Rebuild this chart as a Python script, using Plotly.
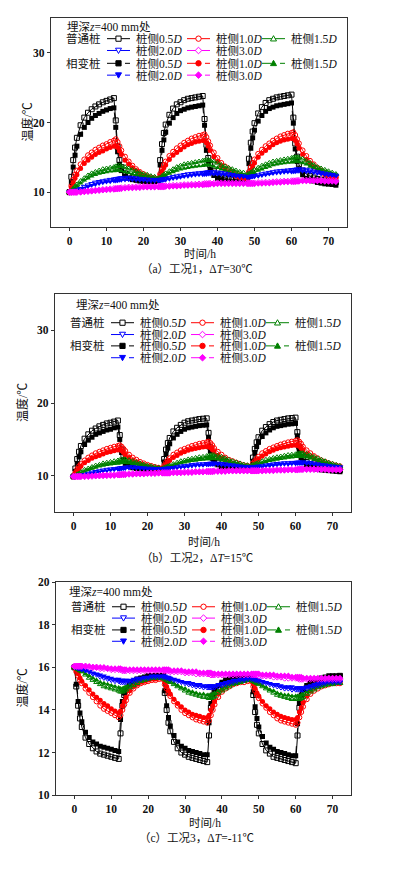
import plotly.graph_objects as go

# ---------------- data ----------------
TIME_H = [
    0, 0.5, 1, 1.5, 2, 3, 4, 5, 6, 7, 8, 9, 10, 11, 12, 12.5, 13, 13.5, 14, 15, 16, 17, 18, 19, 20, 21, 22, 23,
    24, 24.5, 25, 25.5, 26, 27, 28, 29, 30, 31, 32, 33, 34, 35, 36, 36.5, 37, 37.5, 38, 39, 40, 41, 42, 43, 44, 45, 46, 47,
    48, 48.5, 49, 49.5, 50, 51, 52, 53, 54, 55, 56, 57, 58, 59, 60, 60.5, 61, 61.5, 62, 63, 64, 65, 66, 67, 68, 69, 70, 71,
    72,
]

SIDE_LABELS = ["桩侧0.5<i>D</i>", "桩侧1.0<i>D</i>", "桩侧1.5<i>D</i>", "桩侧2.0<i>D</i>", "桩侧3.0<i>D</i>"]
GROUP_LABELS = ["普通桩", "相变桩"]
DEPTH_LABEL = "埋深<i>z</i>=400 mm处"
X_TICKS = [0, 10, 20, 30, 40, 50, 60, 70]
CAPTIONS = ["（a）工况1，Δ<i>T</i>=30℃", "（b）工况2，Δ<i>T</i>=15℃", "（c）工况3，Δ<i>T</i>=-11℃"]
X_TITLE = "时间/h"
Y_TITLE = "温度/℃"

# ---- case 1, dT = 30 ----
A_N05 = [10.0, 12.2, 14.6, 16.4, 17.8, 19.6, 20.7, 21.4, 21.9, 22.3, 22.6, 22.9, 23.1, 23.3, 23.5, 20.3, 16.5, 14.6, 13.6, 12.7, 12.3, 12.1, 11.95, 11.85, 11.8, 11.75, 11.7, 11.7,
         11.8, 14.6, 16.9, 18.5, 19.7, 21.1, 22.0, 22.6, 22.9, 23.2, 23.4, 23.5, 23.6, 23.7, 23.8, 20.5, 16.8, 14.9, 13.9, 13.0, 12.5, 12.2, 12.0, 11.9, 11.85, 11.8, 11.75, 11.7,
         12.0, 14.8, 17.1, 18.7, 19.9, 21.3, 22.2, 22.8, 23.2, 23.4, 23.6, 23.7, 23.8, 23.9, 24.0, 20.7, 17.0, 15.1, 14.0, 13.1, 12.6, 12.3, 12.1, 11.9, 11.8, 11.7, 11.6, 11.5,
         11.4]
A_P05 = [10.0, 11.4, 13.6, 15.3, 16.6, 18.3, 19.3, 20.0, 20.6, 21.0, 21.3, 21.6, 21.8, 22.0, 22.1, 19.3, 15.8, 14.0, 13.1, 12.3, 12.0, 11.8, 11.7, 11.6, 11.55, 11.5, 11.5, 11.5,
         11.6, 13.9, 16.0, 17.5, 18.6, 19.9, 20.7, 21.3, 21.7, 21.9, 22.1, 22.2, 22.3, 22.4, 22.5, 19.6, 16.0, 14.2, 13.2, 12.4, 12.0, 11.8, 11.6, 11.5, 11.45, 11.4, 11.4, 11.4,
         11.8, 14.1, 16.3, 17.8, 18.9, 20.2, 21.0, 21.6, 22.0, 22.2, 22.4, 22.5, 22.6, 22.7, 22.8, 19.9, 16.2, 14.4, 13.3, 12.5, 12.0, 11.8, 11.6, 11.4, 11.3, 11.2, 11.15, 11.1,
         11.0]
A_N10 = [10.0, 10.9, 11.8, 12.5, 13.1, 14.0, 14.7, 15.3, 15.7, 16.1, 16.4, 16.7, 16.9, 17.2, 17.4, 17.6, 17.2, 16.6, 16.0, 15.1, 14.4, 13.8, 13.3, 12.9, 12.6, 12.3, 12.1, 12.0,
         11.9, 12.6, 13.3, 13.9, 14.4, 15.2, 15.8, 16.3, 16.7, 17.1, 17.4, 17.7, 17.9, 18.1, 18.2, 18.3, 17.9, 17.3, 16.7, 15.7, 14.9, 14.2, 13.7, 13.3, 12.9, 12.6, 12.4, 12.3,
         12.2, 12.9, 13.6, 14.2, 14.7, 15.5, 16.1, 16.6, 17.0, 17.4, 17.7, 18.0, 18.2, 18.4, 18.5, 18.6, 18.2, 17.6, 17.0, 16.0, 15.2, 14.5, 14.0, 13.5, 13.1, 12.8, 12.5, 12.3,
         12.2]
A_P10 = [10.0, 10.7, 11.4, 12.0, 12.5, 13.4, 14.1, 14.6, 15.0, 15.4, 15.7, 15.9, 16.2, 16.4, 16.6, 16.7, 16.4, 15.9, 15.4, 14.6, 14.0, 13.5, 13.1, 12.7, 12.4, 12.2, 12.0, 11.9,
         11.8, 12.4, 13.0, 13.5, 13.9, 14.7, 15.3, 15.7, 16.1, 16.5, 16.8, 17.0, 17.2, 17.3, 17.4, 17.4, 17.1, 16.6, 16.0, 15.1, 14.4, 13.8, 13.3, 12.9, 12.6, 12.3, 12.1, 12.0,
         11.9, 12.6, 13.2, 13.7, 14.2, 15.0, 15.6, 16.0, 16.4, 16.8, 17.1, 17.3, 17.5, 17.6, 17.7, 17.7, 17.4, 16.9, 16.3, 15.4, 14.7, 14.1, 13.6, 13.2, 12.8, 12.5, 12.3, 12.1,
         12.0]
A_N15 = [10.0, 10.2, 10.5, 10.8, 11.1, 11.6, 12.0, 12.4, 12.7, 12.9, 13.1, 13.3, 13.4, 13.5, 13.6, 13.7, 13.8, 13.8, 13.75, 13.6, 13.4, 13.2, 13.0, 12.8, 12.6, 12.5, 12.3, 12.2,
         12.0, 12.1, 12.3, 12.5, 12.7, 13.0, 13.3, 13.6, 13.8, 14.0, 14.1, 14.2, 14.3, 14.4, 14.5, 14.55, 14.6, 14.6, 14.55, 14.4, 14.2, 13.9, 13.7, 13.5, 13.3, 13.1, 12.9, 12.8,
         12.5, 12.6, 12.8, 13.0, 13.2, 13.5, 13.8, 14.0, 14.2, 14.4, 14.5, 14.6, 14.7, 14.8, 14.9, 14.95, 15.0, 15.0, 14.95, 14.8, 14.5, 14.2, 13.9, 13.6, 13.4, 13.2, 13.0, 12.8,
         12.6]
A_P15 = [10.0, 10.1, 10.4, 10.6, 10.9, 11.3, 11.7, 12.0, 12.3, 12.5, 12.7, 12.8, 12.9, 13.0, 13.05, 13.1, 13.1, 13.1, 13.05, 12.9, 12.8, 12.6, 12.5, 12.3, 12.2, 12.1, 12.0, 11.95,
         11.9, 12.0, 12.1, 12.3, 12.4, 12.7, 12.9, 13.1, 13.3, 13.4, 13.5, 13.6, 13.7, 13.75, 13.8, 13.85, 13.9, 13.9, 13.85, 13.7, 13.5, 13.3, 13.1, 12.9, 12.8, 12.6, 12.5, 12.4,
         12.3, 12.4, 12.5, 12.7, 12.8, 13.1, 13.3, 13.5, 13.7, 13.9, 14.0, 14.1, 14.2, 14.25, 14.3, 14.35, 14.4, 14.4, 14.35, 14.2, 14.0, 13.7, 13.5, 13.3, 13.1, 12.9, 12.8, 12.6,
         12.5]
A_N20 = [10.0, 10.0, 10.1, 10.2, 10.3, 10.5, 10.8, 11.0, 11.2, 11.4, 11.5, 11.6, 11.7, 11.8, 11.85, 11.9, 11.95, 12.0, 12.05, 12.1, 12.1, 12.05, 12.0, 11.95, 11.9, 11.85, 11.8, 11.8,
         11.8, 11.8, 11.85, 11.9, 11.95, 12.05, 12.2, 12.3, 12.4, 12.5, 12.6, 12.65, 12.7, 12.75, 12.8, 12.8, 12.85, 12.9, 12.9, 12.9, 12.85, 12.8, 12.7, 12.6, 12.5, 12.4, 12.35, 12.3,
         12.2, 12.2, 12.25, 12.3, 12.35, 12.45, 12.6, 12.7, 12.8, 12.9, 13.0, 13.05, 13.1, 13.15, 13.2, 13.2, 13.25, 13.3, 13.3, 13.3, 13.25, 13.15, 13.0, 12.9, 12.8, 12.7, 12.6, 12.5,
         12.4]
A_P20 = [10.0, 10.0, 10.05, 10.1, 10.2, 10.4, 10.6, 10.8, 11.0, 11.1, 11.25, 11.35, 11.45, 11.5, 11.6, 11.6, 11.65, 11.7, 11.7, 11.75, 11.8, 11.8, 11.75, 11.7, 11.7, 11.65, 11.6, 11.6,
         11.6, 11.6, 11.65, 11.7, 11.75, 11.85, 11.95, 12.05, 12.15, 12.25, 12.3, 12.4, 12.45, 12.5, 12.5, 12.55, 12.55, 12.6, 12.6, 12.6, 12.6, 12.55, 12.5, 12.4, 12.35, 12.3, 12.2, 12.2,
         12.1, 12.1, 12.15, 12.2, 12.2, 12.3, 12.4, 12.5, 12.6, 12.7, 12.75, 12.8, 12.85, 12.9, 12.9, 12.95, 12.95, 13.0, 13.0, 13.0, 12.95, 12.9, 12.8, 12.7, 12.6, 12.5, 12.4, 12.35,
         12.3]
A_N30 = [10.0, 10.0, 10.0, 10.0, 10.0, 10.05, 10.1, 10.15, 10.2, 10.25, 10.3, 10.35, 10.4, 10.45, 10.5, 10.5, 10.55, 10.55, 10.6, 10.65, 10.7, 10.7, 10.75, 10.75, 10.8, 10.8, 10.8, 10.8,
         10.85, 10.85, 10.85, 10.85, 10.9, 10.9, 10.95, 10.95, 11.0, 11.05, 11.05, 11.1, 11.1, 11.15, 11.15, 11.2, 11.2, 11.2, 11.25, 11.25, 11.3, 11.3, 11.3, 11.3, 11.3, 11.3, 11.3, 11.3,
         11.3, 11.3, 11.3, 11.3, 11.3, 11.35, 11.35, 11.4, 11.4, 11.45, 11.5, 11.5, 11.55, 11.55, 11.6, 11.6, 11.6, 11.65, 11.65, 11.7, 11.7, 11.7, 11.7, 11.7, 11.7, 11.65, 11.65, 11.65,
         11.6]
A_P30 = [10.0, 10.0, 10.0, 10.0, 10.0, 10.0, 10.05, 10.1, 10.15, 10.2, 10.25, 10.3, 10.35, 10.4, 10.4, 10.45, 10.45, 10.5, 10.5, 10.55, 10.6, 10.6, 10.65, 10.65, 10.7, 10.7, 10.7, 10.7,
         10.75, 10.75, 10.75, 10.75, 10.8, 10.8, 10.85, 10.85, 10.9, 10.95, 10.95, 11.0, 11.0, 11.05, 11.05, 11.1, 11.1, 11.1, 11.15, 11.15, 11.2, 11.2, 11.2, 11.2, 11.2, 11.2, 11.2, 11.2,
         11.2, 11.2, 11.2, 11.2, 11.2, 11.25, 11.25, 11.3, 11.3, 11.35, 11.4, 11.4, 11.45, 11.45, 11.5, 11.5, 11.5, 11.55, 11.55, 11.6, 11.6, 11.6, 11.6, 11.6, 11.6, 11.55, 11.55, 11.55,
         11.5]

# ---- case 2, dT = 15 ----
B_N05 = [9.9, 11.0, 12.3, 13.3, 14.1, 15.1, 15.7, 16.2, 16.5, 16.8, 17.0, 17.2, 17.3, 17.45, 17.6, 15.6, 13.6, 12.6, 12.0, 11.6, 11.35, 11.2, 11.1, 11.05, 11.0, 10.95, 10.9, 10.9,
         10.9, 12.3, 13.6, 14.5, 15.2, 16.1, 16.6, 17.0, 17.3, 17.5, 17.6, 17.7, 17.8, 17.85, 17.9, 15.9, 13.9, 12.9, 12.3, 11.8, 11.5, 11.35, 11.25, 11.2, 11.15, 11.1, 11.1, 11.05,
         11.1, 12.5, 13.7, 14.6, 15.3, 16.2, 16.7, 17.1, 17.4, 17.6, 17.7, 17.8, 17.9, 17.95, 18.0, 16.0, 14.0, 13.0, 12.4, 11.9, 11.6, 11.4, 11.25, 11.1, 11.0, 10.9, 10.85, 10.8,
         10.75]
B_P05 = [9.9, 10.6, 11.7, 12.6, 13.3, 14.3, 14.9, 15.3, 15.7, 15.9, 16.1, 16.3, 16.4, 16.6, 16.7, 15.0, 13.2, 12.2, 11.7, 11.3, 11.1, 11.0, 10.95, 10.9, 10.85, 10.8, 10.8, 10.8,
         10.8, 11.9, 13.0, 13.8, 14.4, 15.2, 15.7, 16.1, 16.4, 16.6, 16.7, 16.8, 16.9, 16.95, 17.0, 15.3, 13.4, 12.4, 11.9, 11.5, 11.2, 11.1, 11.0, 10.95, 10.9, 10.85, 10.85, 10.8,
         10.9, 12.0, 13.2, 14.0, 14.6, 15.4, 15.9, 16.3, 16.6, 16.8, 16.9, 17.0, 17.1, 17.15, 17.2, 15.5, 13.5, 12.5, 12.0, 11.5, 11.2, 11.0, 10.9, 10.8, 10.75, 10.7, 10.65, 10.6,
         10.55]
B_N10 = [9.9, 10.4, 10.9, 11.3, 11.6, 12.1, 12.5, 12.8, 13.1, 13.3, 13.5, 13.7, 13.85, 14.0, 14.1, 14.2, 14.0, 13.7, 13.4, 12.9, 12.5, 12.2, 11.9, 11.7, 11.5, 11.35, 11.2, 11.1,
         11.0, 11.4, 11.8, 12.1, 12.4, 12.9, 13.2, 13.5, 13.7, 13.9, 14.1, 14.25, 14.4, 14.5, 14.6, 14.7, 14.5, 14.2, 13.8, 13.3, 12.9, 12.5, 12.2, 12.0, 11.8, 11.6, 11.45, 11.35,
         11.3, 11.7, 12.0, 12.3, 12.6, 13.1, 13.4, 13.7, 13.9, 14.1, 14.3, 14.45, 14.6, 14.7, 14.8, 14.9, 14.7, 14.4, 14.0, 13.5, 13.1, 12.7, 12.4, 12.1, 11.9, 11.7, 11.55, 11.4,
         11.3]
B_P10 = [9.9, 10.3, 10.7, 11.0, 11.3, 11.8, 12.1, 12.4, 12.6, 12.8, 13.0, 13.2, 13.3, 13.45, 13.55, 13.6, 13.45, 13.2, 12.9, 12.5, 12.1, 11.85, 11.6, 11.4, 11.25, 11.1, 11.0, 10.95,
         10.9, 11.2, 11.6, 11.9, 12.1, 12.5, 12.8, 13.1, 13.3, 13.5, 13.65, 13.75, 13.85, 13.95, 14.0, 14.0, 13.85, 13.6, 13.3, 12.8, 12.4, 12.1, 11.85, 11.65, 11.5, 11.35, 11.25, 11.15,
         11.1, 11.4, 11.8, 12.1, 12.3, 12.7, 13.0, 13.3, 13.5, 13.7, 13.85, 13.95, 14.05, 14.15, 14.2, 14.2, 14.05, 13.8, 13.5, 13.0, 12.6, 12.3, 12.0, 11.8, 11.6, 11.45, 11.3, 11.2,
         11.1]
B_N15 = [9.9, 10.0, 10.2, 10.3, 10.5, 10.8, 11.0, 11.2, 11.4, 11.5, 11.7, 11.8, 11.9, 12.0, 12.1, 12.15, 12.2, 12.25, 12.25, 12.15, 12.0, 11.85, 11.7, 11.55, 11.4, 11.3, 11.2, 11.1,
         11.0, 11.1, 11.2, 11.3, 11.4, 11.6, 11.8, 12.0, 12.1, 12.25, 12.35, 12.45, 12.55, 12.6, 12.7, 12.75, 12.8, 12.85, 12.85, 12.75, 12.6, 12.4, 12.2, 12.0, 11.85, 11.7, 11.55, 11.45,
         11.4, 11.5, 11.6, 11.7, 11.8, 12.0, 12.2, 12.3, 12.45, 12.55, 12.65, 12.75, 12.85, 12.9, 12.95, 13.0, 13.05, 13.1, 13.1, 13.0, 12.8, 12.6, 12.4, 12.2, 12.0, 11.8, 11.65, 11.5,
         11.35]
B_P15 = [9.9, 10.0, 10.1, 10.2, 10.35, 10.6, 10.8, 11.0, 11.15, 11.3, 11.4, 11.5, 11.6, 11.65, 11.7, 11.75, 11.8, 11.8, 11.8, 11.75, 11.65, 11.55, 11.4, 11.3, 11.2, 11.1, 11.05, 11.0,
         10.95, 11.0, 11.1, 11.2, 11.3, 11.45, 11.6, 11.75, 11.85, 11.95, 12.05, 12.1, 12.2, 12.25, 12.3, 12.3, 12.35, 12.35, 12.35, 12.3, 12.15, 12.0, 11.85, 11.7, 11.55, 11.45, 11.35, 11.3,
         11.25, 11.3, 11.4, 11.5, 11.6, 11.75, 11.9, 12.05, 12.15, 12.25, 12.35, 12.4, 12.5, 12.55, 12.6, 12.6, 12.65, 12.65, 12.65, 12.55, 12.4, 12.2, 12.0, 11.85, 11.7, 11.55, 11.45, 11.35,
         11.25]
B_N20 = [9.9, 9.9, 9.95, 10.0, 10.05, 10.15, 10.3, 10.45, 10.55, 10.65, 10.75, 10.85, 10.9, 10.95, 11.0, 11.05, 11.1, 11.1, 11.15, 11.2, 11.2, 11.15, 11.1, 11.05, 11.0, 11.0, 10.95, 10.95,
         10.95, 10.95, 11.0, 11.0, 11.05, 11.1, 11.2, 11.3, 11.35, 11.4, 11.5, 11.55, 11.6, 11.6, 11.65, 11.65, 11.7, 11.7, 11.7, 11.7, 11.65, 11.6, 11.5, 11.45, 11.4, 11.3, 11.25, 11.2,
         11.2, 11.2, 11.2, 11.25, 11.3, 11.35, 11.45, 11.5, 11.6, 11.65, 11.7, 11.75, 11.75, 11.8, 11.8, 11.85, 11.85, 11.85, 11.85, 11.85, 11.8, 11.7, 11.6, 11.5, 11.45, 11.35, 11.3, 11.25,
         11.2]
B_P20 = [9.9, 9.9, 9.9, 9.95, 10.0, 10.1, 10.2, 10.35, 10.45, 10.55, 10.65, 10.7, 10.8, 10.85, 10.9, 10.9, 10.95, 11.0, 11.0, 11.05, 11.05, 11.05, 11.0, 11.0, 10.95, 10.95, 10.9, 10.9,
         10.9, 10.9, 10.9, 10.95, 11.0, 11.05, 11.1, 11.2, 11.25, 11.3, 11.35, 11.4, 11.45, 11.45, 11.5, 11.5, 11.55, 11.55, 11.55, 11.55, 11.5, 11.45, 11.4, 11.35, 11.3, 11.25, 11.2, 11.15,
         11.15, 11.15, 11.15, 11.2, 11.2, 11.25, 11.35, 11.4, 11.45, 11.5, 11.55, 11.6, 11.6, 11.65, 11.65, 11.7, 11.7, 11.7, 11.7, 11.7, 11.65, 11.6, 11.5, 11.45, 11.35, 11.3, 11.2, 11.15,
         11.1]
B_N30 = [9.9, 9.9, 9.9, 9.9, 9.9, 9.9, 9.95, 9.95, 10.0, 10.0, 10.05, 10.05, 10.1, 10.1, 10.15, 10.15, 10.2, 10.2, 10.2, 10.25, 10.25, 10.3, 10.3, 10.3, 10.35, 10.35, 10.35, 10.4,
         10.4, 10.4, 10.4, 10.4, 10.4, 10.45, 10.45, 10.45, 10.5, 10.5, 10.5, 10.55, 10.55, 10.55, 10.6, 10.6, 10.6, 10.6, 10.65, 10.65, 10.65, 10.65, 10.7, 10.7, 10.7, 10.7, 10.7, 10.7,
         10.7, 10.7, 10.7, 10.7, 10.7, 10.7, 10.75, 10.75, 10.75, 10.8, 10.8, 10.8, 10.85, 10.85, 10.85, 10.85, 10.9, 10.9, 10.9, 10.9, 10.9, 10.9, 10.9, 10.9, 10.9, 10.85, 10.85, 10.85,
         10.85]
B_P30 = [9.9, 9.9, 9.9, 9.9, 9.9, 9.9, 9.9, 9.95, 9.95, 10.0, 10.0, 10.05, 10.05, 10.05, 10.1, 10.1, 10.15, 10.15, 10.15, 10.2, 10.2, 10.25, 10.25, 10.25, 10.3, 10.3, 10.3, 10.35,
         10.35, 10.35, 10.35, 10.35, 10.35, 10.4, 10.4, 10.4, 10.45, 10.45, 10.45, 10.5, 10.5, 10.5, 10.55, 10.55, 10.55, 10.55, 10.6, 10.6, 10.6, 10.6, 10.65, 10.65, 10.65, 10.65, 10.65, 10.65,
         10.65, 10.65, 10.65, 10.65, 10.65, 10.65, 10.7, 10.7, 10.7, 10.75, 10.75, 10.75, 10.8, 10.8, 10.8, 10.8, 10.85, 10.85, 10.85, 10.85, 10.85, 10.85, 10.85, 10.85, 10.85, 10.8, 10.8, 10.8,
         10.8]

# ---- case 3, dT = -11 ----
C_N05 = [16.0, 15.1, 14.2, 13.6, 13.2, 12.7, 12.4, 12.2, 12.05, 11.95, 11.9, 11.85, 11.8, 11.75, 11.7, 12.9, 14.2, 14.7, 14.95, 15.15, 15.3, 15.4, 15.45, 15.5, 15.55, 15.55, 15.6, 15.6,
         15.6, 14.8, 14.0, 13.4, 13.0, 12.5, 12.2, 12.0, 11.9, 11.8, 11.75, 11.7, 11.65, 11.6, 11.55, 12.8, 14.1, 14.6, 14.85, 15.05, 15.2, 15.3, 15.35, 15.4, 15.45, 15.5, 15.5, 15.55,
         15.55, 14.7, 13.9, 13.3, 12.9, 12.4, 12.1, 11.95, 11.8, 11.75, 11.7, 11.65, 11.6, 11.55, 11.5, 12.8, 14.1, 14.6, 14.85, 15.05, 15.2, 15.3, 15.35, 15.4, 15.45, 15.5, 15.55, 15.55,
         15.6]
C_P05 = [16.0, 15.2, 14.4, 13.85, 13.45, 12.95, 12.7, 12.5, 12.4, 12.3, 12.25, 12.2, 12.15, 12.1, 12.05, 13.55, 14.4, 14.8, 15.0, 15.2, 15.35, 15.45, 15.5, 15.55, 15.6, 15.6, 15.6, 15.6,
         15.6, 14.9, 14.2, 13.65, 13.25, 12.8, 12.5, 12.3, 12.2, 12.1, 12.05, 12.0, 11.95, 11.9, 11.9, 13.4, 14.3, 14.7, 14.95, 15.15, 15.3, 15.4, 15.45, 15.5, 15.5, 15.55, 15.55, 15.6,
         15.6, 14.85, 14.15, 13.6, 13.2, 12.75, 12.45, 12.25, 12.15, 12.05, 12.0, 11.95, 11.9, 11.85, 11.85, 13.35, 14.3, 14.7, 14.95, 15.15, 15.3, 15.4, 15.45, 15.5, 15.55, 15.6, 15.6, 15.6,
         15.6]
C_N10 = [16.0, 15.8, 15.6, 15.4, 15.25, 15.0, 14.8, 14.6, 14.4, 14.2, 14.05, 13.95, 13.85, 13.75, 13.65, 13.75, 14.0, 14.25, 14.45, 14.8, 15.0, 15.15, 15.25, 15.3, 15.35, 15.4, 15.4, 15.45,
         15.45, 15.2, 15.0, 14.8, 14.65, 14.4, 14.2, 14.0, 13.85, 13.75, 13.65, 13.55, 13.5, 13.45, 13.4, 13.5, 13.75, 14.0, 14.25, 14.6, 14.85, 15.0, 15.1, 15.2, 15.25, 15.3, 15.3, 15.35,
         15.35, 15.1, 14.9, 14.7, 14.55, 14.3, 14.1, 13.9, 13.75, 13.6, 13.5, 13.45, 13.4, 13.35, 13.3, 13.4, 13.65, 13.9, 14.15, 14.5, 14.75, 14.9, 15.0, 15.1, 15.15, 15.2, 15.25, 15.25,
         15.25]
C_P10 = [16.0, 15.85, 15.7, 15.5, 15.35, 15.15, 14.95, 14.75, 14.6, 14.45, 14.3, 14.2, 14.05, 13.95, 13.85, 13.95, 14.2, 14.4, 14.6, 14.9, 15.1, 15.2, 15.3, 15.35, 15.4, 15.45, 15.45, 15.5,
         15.5, 15.3, 15.1, 14.9, 14.75, 14.5, 14.3, 14.15, 14.0, 13.9, 13.8, 13.75, 13.7, 13.65, 13.65, 13.75, 14.0, 14.2, 14.4, 14.75, 14.95, 15.1, 15.2, 15.25, 15.3, 15.35, 15.4, 15.4,
         15.4, 15.2, 15.0, 14.8, 14.65, 14.4, 14.2, 14.05, 13.9, 13.8, 13.7, 13.65, 13.6, 13.55, 13.55, 13.65, 13.9, 14.1, 14.35, 14.65, 14.9, 15.05, 15.15, 15.2, 15.25, 15.3, 15.3, 15.35,
         15.35]
C_N15 = [16.0, 15.95, 15.9, 15.85, 15.8, 15.65, 15.5, 15.4, 15.3, 15.2, 15.1, 15.05, 15.0, 14.95, 14.9, 14.85, 14.85, 14.9, 14.95, 15.05, 15.15, 15.25, 15.35, 15.4, 15.45, 15.5, 15.5, 15.5,
         15.5, 15.45, 15.4, 15.35, 15.3, 15.2, 15.1, 15.0, 14.9, 14.8, 14.75, 14.7, 14.65, 14.6, 14.6, 14.55, 14.55, 14.6, 14.65, 14.8, 14.9, 15.0, 15.1, 15.2, 15.25, 15.3, 15.35, 15.4,
         15.4, 15.35, 15.3, 15.25, 15.2, 15.1, 15.0, 14.9, 14.8, 14.7, 14.65, 14.6, 14.55, 14.5, 14.5, 14.5, 14.5, 14.55, 14.6, 14.75, 14.85, 14.95, 15.05, 15.1, 15.15, 15.2, 15.2, 15.25,
         15.25]
C_P15 = [16.0, 15.95, 15.9, 15.85, 15.8, 15.7, 15.6, 15.5, 15.4, 15.3, 15.25, 15.2, 15.15, 15.1, 15.05, 15.0, 15.0, 15.05, 15.1, 15.2, 15.3, 15.35, 15.4, 15.45, 15.5, 15.5, 15.55, 15.55,
         15.55, 15.5, 15.45, 15.4, 15.35, 15.25, 15.15, 15.05, 15.0, 14.9, 14.85, 14.8, 14.75, 14.75, 14.7, 14.7, 14.7, 14.75, 14.8, 14.9, 15.0, 15.1, 15.2, 15.25, 15.3, 15.35, 15.4, 15.4,
         15.4, 15.35, 15.3, 15.3, 15.25, 15.15, 15.05, 14.95, 14.9, 14.8, 14.75, 14.7, 14.7, 14.65, 14.65, 14.65, 14.65, 14.7, 14.75, 14.85, 14.95, 15.05, 15.1, 15.15, 15.2, 15.25, 15.25, 15.3,
         15.3]
C_N20 = [16.0, 16.0, 15.95, 15.95, 15.9, 15.85, 15.8, 15.7, 15.65, 15.55, 15.5, 15.45, 15.4, 15.35, 15.35, 15.3, 15.3, 15.3, 15.3, 15.3, 15.35, 15.4, 15.45, 15.5, 15.5, 15.55, 15.55, 15.55,
         15.55, 15.55, 15.5, 15.5, 15.45, 15.4, 15.35, 15.3, 15.25, 15.2, 15.15, 15.1, 15.1, 15.05, 15.05, 15.05, 15.05, 15.05, 15.05, 15.1, 15.15, 15.2, 15.25, 15.3, 15.35, 15.4, 15.4, 15.45,
         15.45, 15.45, 15.4, 15.4, 15.35, 15.3, 15.25, 15.2, 15.15, 15.1, 15.05, 15.0, 15.0, 14.95, 14.95, 14.95, 14.95, 14.95, 14.95, 15.0, 15.05, 15.1, 15.15, 15.2, 15.25, 15.3, 15.3, 15.3,
         15.3]
C_P20 = [16.0, 16.0, 15.95, 15.95, 15.9, 15.85, 15.8, 15.75, 15.7, 15.65, 15.6, 15.55, 15.5, 15.45, 15.45, 15.4, 15.4, 15.4, 15.4, 15.4, 15.45, 15.5, 15.5, 15.55, 15.55, 15.6, 15.6, 15.6,
         15.6, 15.6, 15.55, 15.55, 15.5, 15.45, 15.4, 15.35, 15.3, 15.3, 15.25, 15.2, 15.2, 15.15, 15.15, 15.15, 15.15, 15.15, 15.15, 15.2, 15.25, 15.3, 15.35, 15.4, 15.4, 15.45, 15.45, 15.5,
         15.5, 15.5, 15.45, 15.45, 15.4, 15.35, 15.3, 15.25, 15.2, 15.2, 15.15, 15.1, 15.1, 15.1, 15.05, 15.05, 15.05, 15.05, 15.05, 15.1, 15.15, 15.2, 15.25, 15.3, 15.3, 15.35, 15.35, 15.35,
         15.35]
C_N30 = [16.05, 16.05, 16.05, 16.05, 16.05, 16.05, 16.0, 16.0, 16.0, 15.95, 15.95, 15.95, 15.9, 15.9, 15.9, 15.9, 15.85, 15.85, 15.85, 15.85, 15.85, 15.85, 15.85, 15.85, 15.85, 15.85, 15.85, 15.85,
         15.85, 15.85, 15.85, 15.85, 15.8, 15.8, 15.8, 15.8, 15.75, 15.75, 15.75, 15.7, 15.7, 15.7, 15.7, 15.7, 15.65, 15.65, 15.65, 15.65, 15.65, 15.65, 15.65, 15.65, 15.65, 15.65, 15.65, 15.65,
         15.65, 15.65, 15.65, 15.65, 15.6, 15.6, 15.6, 15.6, 15.55, 15.55, 15.55, 15.5, 15.5, 15.5, 15.5, 15.5, 15.45, 15.45, 15.45, 15.45, 15.45, 15.45, 15.45, 15.45, 15.45, 15.45, 15.45, 15.45,
         15.45]
C_P30 = [16.05, 16.05, 16.05, 16.05, 16.05, 16.05, 16.05, 16.0, 16.0, 16.0, 16.0, 15.95, 15.95, 15.95, 15.95, 15.95, 15.9, 15.9, 15.9, 15.9, 15.9, 15.9, 15.9, 15.9, 15.9, 15.9, 15.9, 15.9,
         15.9, 15.9, 15.9, 15.9, 15.85, 15.85, 15.85, 15.85, 15.8, 15.8, 15.8, 15.8, 15.75, 15.75, 15.75, 15.75, 15.75, 15.7, 15.7, 15.7, 15.7, 15.7, 15.7, 15.7, 15.7, 15.7, 15.7, 15.7,
         15.7, 15.7, 15.7, 15.7, 15.7, 15.65, 15.65, 15.65, 15.65, 15.6, 15.6, 15.6, 15.6, 15.55, 15.55, 15.55, 15.55, 15.55, 15.5, 15.5, 15.5, 15.5, 15.5, 15.5, 15.5, 15.5, 15.5, 15.5,
         15.5]

CASE_SERIES = [
    ([A_N05, A_N10, A_N15, A_N20, A_N30], [A_P05, A_P10, A_P15, A_P20, A_P30]),
    ([B_N05, B_N10, B_N15, B_N20, B_N30], [B_P05, B_P10, B_P15, B_P20, B_P30]),
    ([C_N05, C_N10, C_N15, C_N20, C_N30], [C_P05, C_P10, C_P15, C_P20, C_P30]),
]
Y_RANGES = [[5, 35], [5, 35], [10, 20]]
Y_TICKS = [[10, 20, 30], [10, 20, 30], [10, 12, 14, 16, 18, 20]]

# ---------------- styling ----------------
PAGE_W, PAGE_H = 394, 891
BODY = 8                       # default page margin around the figure div
W, H = PAGE_W - 2 * BODY, PAGE_H - 2 * BODY
COLORS = ["#000000", "#ff0000", "#008000", "#0000ff", "#ff00ff"]
OPEN_SYMBOLS = ["square-open", "circle-open", "triangle-up-open", "triangle-down-open", "diamond-open"]
FILLED_SYMBOLS = ["square", "circle", "triangle-up", "triangle-down", "diamond"]
GLYPH_PATHS = [
    "M-2.6,-2.6 L2.6,-2.6 L2.6,2.6 L-2.6,2.6 Z",
    None,
    "M-3,-2.3 L3,-2.3 L0,3 Z",
    "M-3,2.3 L3,2.3 L0,-3 Z",
    "M0,-3.3 L3.3,0 L0,3.3 L-3.3,0 Z",
]
FONT = "Liberation Serif, Noto Sans CJK SC, serif"
TXT = "#111111"
AXC = "#333333"
LEG_SIZE = 11.5

# panel boxes in page pixels: left, right, top, bottom
PANELS = [
    dict(l=51, r=347, t=12, b=224, ytitle_x=27, xtitle_y=251, cap_y=267,
         title_dx=14, title_dy=8.5, rows=[21, 33, 46, 58]),
    dict(l=55, r=351, t=292, b=513, ytitle_x=22, xtitle_y=543, cap_y=560,
         title_dx=19, title_dy=11, rows=[29, 41, 52.5, 64.5]),
    dict(l=56, r=351, t=584, b=800, ytitle_x=23, xtitle_y=828, cap_y=843,
         title_dx=11, title_dy=9.5, rows=[25, 36.5, 48.5, 60]),
]
COL_LINE_X = [56, 136, 211]   # legend column line start, px from panel left
LINE_LEN = 23
TEXT_GAP = 27


def px(x):
    return (x - BODY) / W


def py(y):
    return 1 - (y - BODY) / H


fig = go.Figure()
annotations = []
shapes = []

for p, panel in enumerate(PANELS):
    xa = "x" if p == 0 else f"x{p + 1}"
    ya = "y" if p == 0 else f"y{p + 1}"
    normal, pcm = CASE_SERIES[p]
    for k in range(5):
        fig.add_trace(go.Scatter(
            x=TIME_H, y=normal[k], xaxis=xa, yaxis=ya, mode="lines+markers",
            line=dict(color=COLORS[k], width=1),
            marker=dict(symbol=OPEN_SYMBOLS[k], size=5, color=COLORS[k], line=dict(width=1, color=COLORS[k])),
            name=GROUP_LABELS[0] + SIDE_LABELS[k], showlegend=False))
        fig.add_trace(go.Scatter(
            x=TIME_H, y=pcm[k], xaxis=xa, yaxis=ya, mode="lines+markers",
            line=dict(color=COLORS[k], width=1, dash="dash"),
            marker=dict(symbol=FILLED_SYMBOLS[k], size=5, color=COLORS[k], line=dict(width=0)),
            name=GROUP_LABELS[1] + SIDE_LABELS[k], showlegend=False))

    axis_common = dict(showline=True, linecolor=AXC, linewidth=1.2, mirror=True, showgrid=False,
                       zeroline=False, ticks="outside", ticklen=3, tickwidth=1, tickcolor=AXC,
                       tickfont=dict(family=FONT, size=11.5, color=TXT, weight="bold"))
    xkey = "xaxis" if p == 0 else f"xaxis{p + 1}"
    ykey = "yaxis" if p == 0 else f"yaxis{p + 1}"
    fig.update_layout(**{
        xkey: dict(domain=[px(panel["l"]), px(panel["r"])], range=[-5, 75], tickvals=X_TICKS,
                   anchor=ya, **axis_common),
        ykey: dict(domain=[py(panel["b"]), py(panel["t"])], range=Y_RANGES[p], tickvals=Y_TICKS[p],
                   anchor=xa, **axis_common),
    })

    cx = (panel["l"] + panel["r"]) / 2
    cy = (panel["t"] + panel["b"]) / 2
    annotations.append(dict(text=Y_TITLE, x=px(panel["ytitle_x"]), y=py(cy), xref="paper", yref="paper",
                            textangle=-90, showarrow=False, xanchor="center", yanchor="middle",
                            font=dict(family=FONT, size=12, color=TXT)))
    annotations.append(dict(text=X_TITLE, x=px(cx + 1), y=py(panel["xtitle_y"]), xref="paper", yref="paper",
                            showarrow=False, xanchor="center", yanchor="middle",
                            font=dict(family=FONT, size=11.5, color=TXT)))
    annotations.append(dict(text=CAPTIONS[p], x=px(197), y=py(panel["cap_y"]), xref="paper", yref="paper",
                            showarrow=False, xanchor="center", yanchor="middle",
                            font=dict(family=FONT, size=11.5, color=TXT)))

    # in-plot legend (drawn manually to reproduce the compact layout)
    L, T = panel["l"], panel["t"]
    annotations.append(dict(text=DEPTH_LABEL, x=px(L + panel["title_dx"]), y=py(T + panel["title_dy"]),
                            xref="paper", yref="paper", showarrow=False, xanchor="left", yanchor="middle",
                            font=dict(family=FONT, size=LEG_SIZE, color=TXT)))
    for g in range(2):
        row0 = panel["rows"][2 * g]
        annotations.append(dict(text=GROUP_LABELS[g], x=px(L + 52), y=py(T + row0), xref="paper", yref="paper",
                                showarrow=False, xanchor="right", yanchor="middle",
                                font=dict(family=FONT, size=LEG_SIZE, color=TXT)))
        for k in range(5):
            row = panel["rows"][2 * g + k // 3]
            col = k % 3
            x0 = L + COL_LINE_X[col]
            yy = T + row
            shapes.append(dict(type="line", xref="paper", yref="paper", x0=px(x0), x1=px(x0 + LINE_LEN),
                               y0=py(yy), y1=py(yy),
                               line=dict(color=COLORS[k], width=1, dash="solid" if g == 0 else "dash")))
            fill = "white" if g == 0 else COLORS[k]
            mk = dict(xref="paper", yref="paper", xsizemode="pixel", ysizemode="pixel",
                      xanchor=px(x0 + LINE_LEN / 2), yanchor=py(yy),
                      fillcolor=fill, line=dict(color=COLORS[k], width=1))
            if GLYPH_PATHS[k] is None:
                mk.update(type="circle", x0=-2.7, x1=2.7, y0=-2.7, y1=2.7)
            else:
                mk.update(type="path", path=GLYPH_PATHS[k])
            shapes.append(mk)
            annotations.append(dict(text=SIDE_LABELS[k], x=px(x0 + TEXT_GAP), y=py(yy), xref="paper", yref="paper",
                                    showarrow=False, xanchor="left", yanchor="middle",
                                    font=dict(family=FONT, size=LEG_SIZE, color=TXT)))

fig.update_layout(width=W, height=H, margin=dict(l=0, r=0, t=0, b=0),
                  paper_bgcolor="white", plot_bgcolor="white", showlegend=False,
                  annotations=annotations, shapes=shapes, font=dict(family=FONT, color=TXT))

fig.write_html("out.html")
